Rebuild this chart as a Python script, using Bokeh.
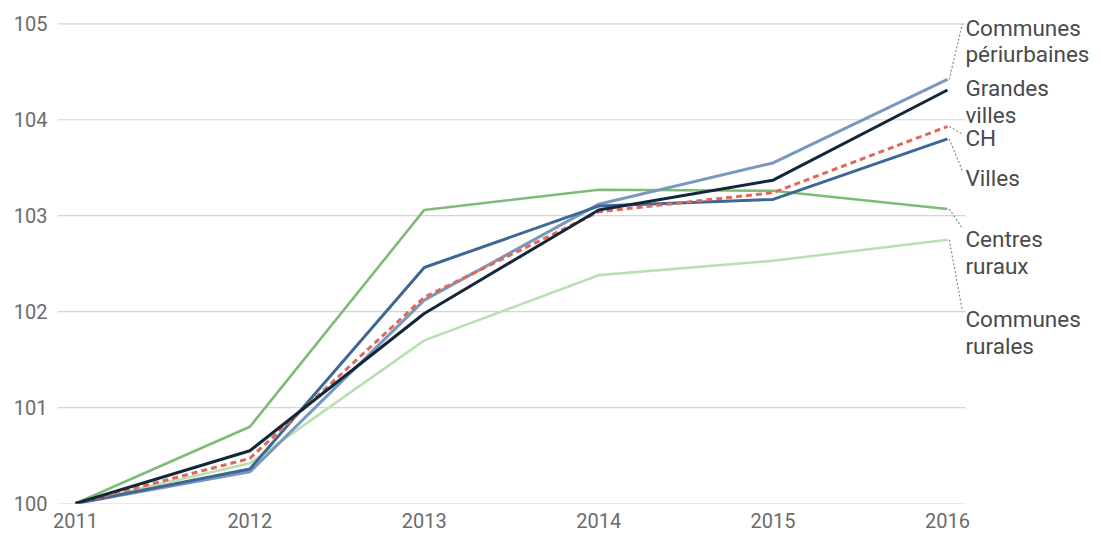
from bokeh.plotting import figure
from bokeh.models import FixedTicker, ColumnDataSource
from bokeh.core.properties import value
from bokeh.embed import file_html
from bokeh.resources import INLINE

# ---- data ----
years = [2011, 2012, 2013, 2014, 2015, 2016]
communes_periurbaines = [100, 100.33, 102.12, 103.12, 103.55, 104.42]
grandes_villes = [100, 100.55, 101.98, 103.06, 103.37, 104.31]
ch = [100, 100.47, 102.15, 103.04, 103.24, 103.93]
villes = [100, 100.36, 102.46, 103.10, 103.17, 103.80]
centres_ruraux = [100, 100.80, 103.06, 103.27, 103.26, 103.07]
communes_rurales = [100, 100.42, 101.70, 102.38, 102.53, 102.75]

y_ticks = [100, 101, 102, 103, 104, 105]
x_ticks = years

series_names = ["Communes\npériurbaines", "Grandes\nvilles", "CH", "Villes",
                "Centres\nruraux", "Communes\nrurales"]
series_values = [communes_periurbaines, grandes_villes, ch, villes,
                 centres_ruraux, communes_rurales]
series_colors = ["#7898c0", "#13273a", "#e0695a", "#3f6796", "#7dbb77", "#b9e0b2"]
series_dash = ["solid", "solid", "6 4", "solid", "solid", "solid"]
series_width = [3, 3, 3, 3, 2.6, 2.6]
# label block centre (y) and where the dotted leader meets the label
label_y = [104.82, 104.19, 103.81, 103.39, 102.62, 101.78]
leader_y = [105.00, None, 103.85, 103.47, 102.87, 102.01]

FONT = "Roboto"

p = figure(width=1101, height=538, output_backend="svg", toolbar_location=None,
           x_range=(2010.897, 2016.883), y_range=(100, 105.243),
           min_border_left=57, min_border_right=0, min_border_top=0,
           min_border_bottom=35)
p.outline_line_color = None
p.background_fill_color = "white"
p.border_fill_color = "white"
p.xgrid.visible = False
p.ygrid.visible = False

for ax in (p.xaxis, p.yaxis):
    ax.axis_line_color = None
    ax.major_tick_line_color = None
    ax.minor_tick_line_color = None
    ax.major_tick_out = 0
    ax.major_tick_in = 0
    ax.minor_tick_out = 0
    ax.minor_tick_in = 0
    ax.major_label_text_font = FONT
    ax.major_label_text_color = "#6b6b6b"
    ax.major_label_text_font_size = "20px"

p.yaxis.ticker = FixedTicker(ticks=y_ticks)
p.xaxis.ticker = FixedTicker(ticks=x_ticks)
p.yaxis.major_label_standoff = 10
p.xaxis.major_label_standoff = 9

# gridlines limited to the left of the labels
grid_end = 2016.103
p.segment(x0=[p.x_range.start] * len(y_ticks), x1=[grid_end] * len(y_ticks),
          y0=y_ticks, y1=y_ticks, line_color="#d4d4d4", line_width=1.2)

# lines, back to front
order = [5, 4, 0, 3, 2, 1]
for i in order:
    p.line(years, series_values[i], line_color=series_colors[i],
           line_width=series_width[i], line_dash=series_dash[i],
           line_join="round")

# dotted leaders
x_end = years[-1]
lx0, lx1, ly0, ly1 = [], [], [], []
for i in range(len(series_names)):
    if leader_y[i] is None:
        continue
    lx0.append(x_end + 0.01)
    lx1.append(x_end + 0.085)
    ly0.append(series_values[i][-1])
    ly1.append(leader_y[i])
p.segment(x0=lx0, x1=lx1, y0=ly0, y1=ly1, line_color="#8a8a8a",
          line_width=1.2, line_dash="2 2")

src = ColumnDataSource(dict(x=[grid_end] * len(series_names), y=label_y,
                            t=series_names))
p.text(x="x", y="y", text="t", source=src, text_font=value(FONT),
       text_font_size="22.5px", text_color="#4a4a4a", text_align="left",
       text_baseline="middle", text_line_height=1.03)

open("out.html", "w").write(file_html(p, INLINE))
